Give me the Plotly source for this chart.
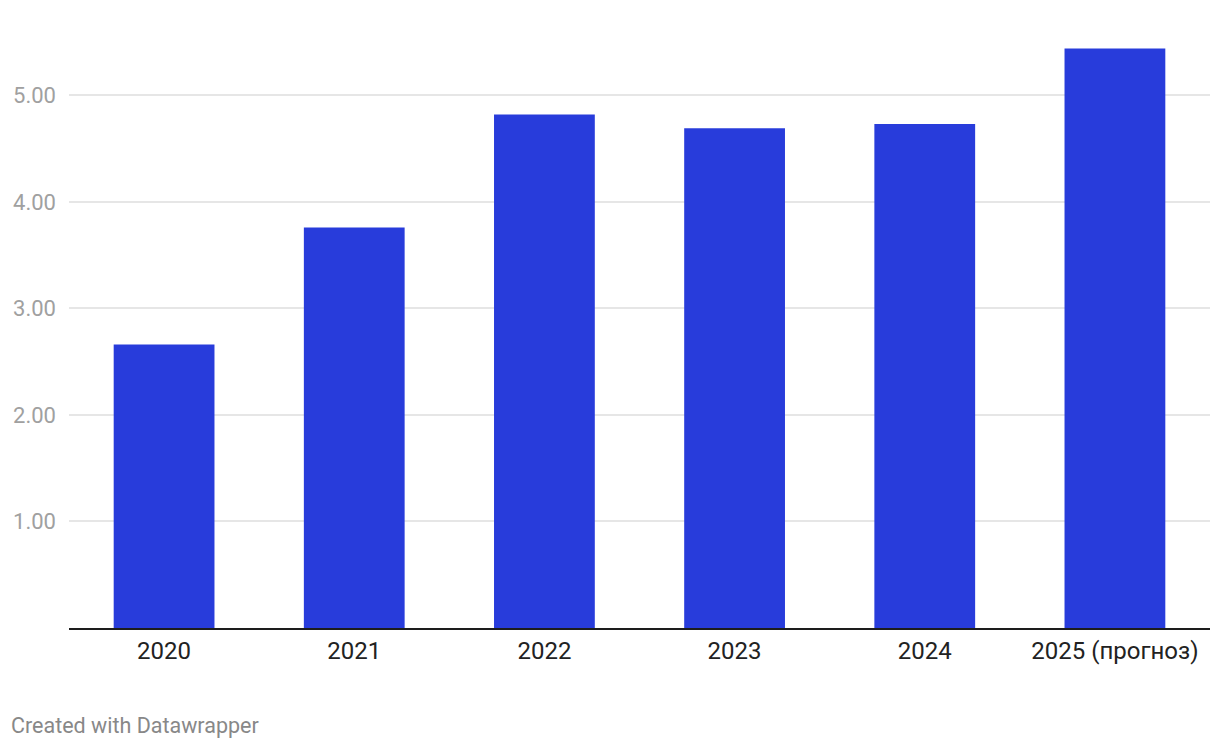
"""Bar chart: yearly values with 2025 forecast."""

import plotly.graph_objects as go

years = ["2020", "2021", "2022", "2023", "2024", "2025 (прогноз)"]
values = [2.66, 3.76, 4.82, 4.69, 4.73, 5.44]
y_ticks = [1, 2, 3, 4, 5]
y_tick_labels = ["1.00", "2.00", "3.00", "4.00", "5.00"]

# page body has an 8px margin, so the figure is sized to fit the window
W, H = 1212, 740
L, R, T, B = 61, 10, 34, 120
plot_w = W - L - R
plot_h = H - T - B

fig = go.Figure()
fig.add_trace(go.Bar(
    x=years,
    y=values,
    marker_color="#283CDB",
    marker_line_width=0,
    hoverinfo="x+y",
))

fig.update_layout(
    width=W,
    height=H,
    margin=dict(l=L, r=R, t=T, b=B),
    paper_bgcolor="white",
    plot_bgcolor="white",
    bargap=0.47,
    showlegend=False,
    font=dict(family="Roboto", size=22, color="#222222"),
    xaxis=dict(
        automargin=False,
        showgrid=False,
        showline=True,
        linecolor="#1d1d1d",
        linewidth=2,
        ticks="",
        ticklabelstandoff=0,
        tickfont=dict(size=24, color="#222222"),
    ),
    yaxis=dict(
        automargin=False,
        range=[0, 5.5],
        tickvals=y_ticks,
        ticktext=y_tick_labels,
        showgrid=True,
        gridcolor="#e6e6e6",
        gridwidth=2,
        zeroline=False,
        showline=False,
        ticks="",
        ticklabelstandoff=12,
        tickfont=dict(size=22, color="#a0a0a0"),
    ),
)

fig.add_annotation(
    text="Created with Datawrapper",
    xref="paper", yref="paper",
    x=(1 - L) / plot_w, y=-97 / plot_h,
    xanchor="left", yanchor="middle",
    showarrow=False,
    font=dict(size=21.5, color="#888888"),
)

fig.write_html("out.html")
